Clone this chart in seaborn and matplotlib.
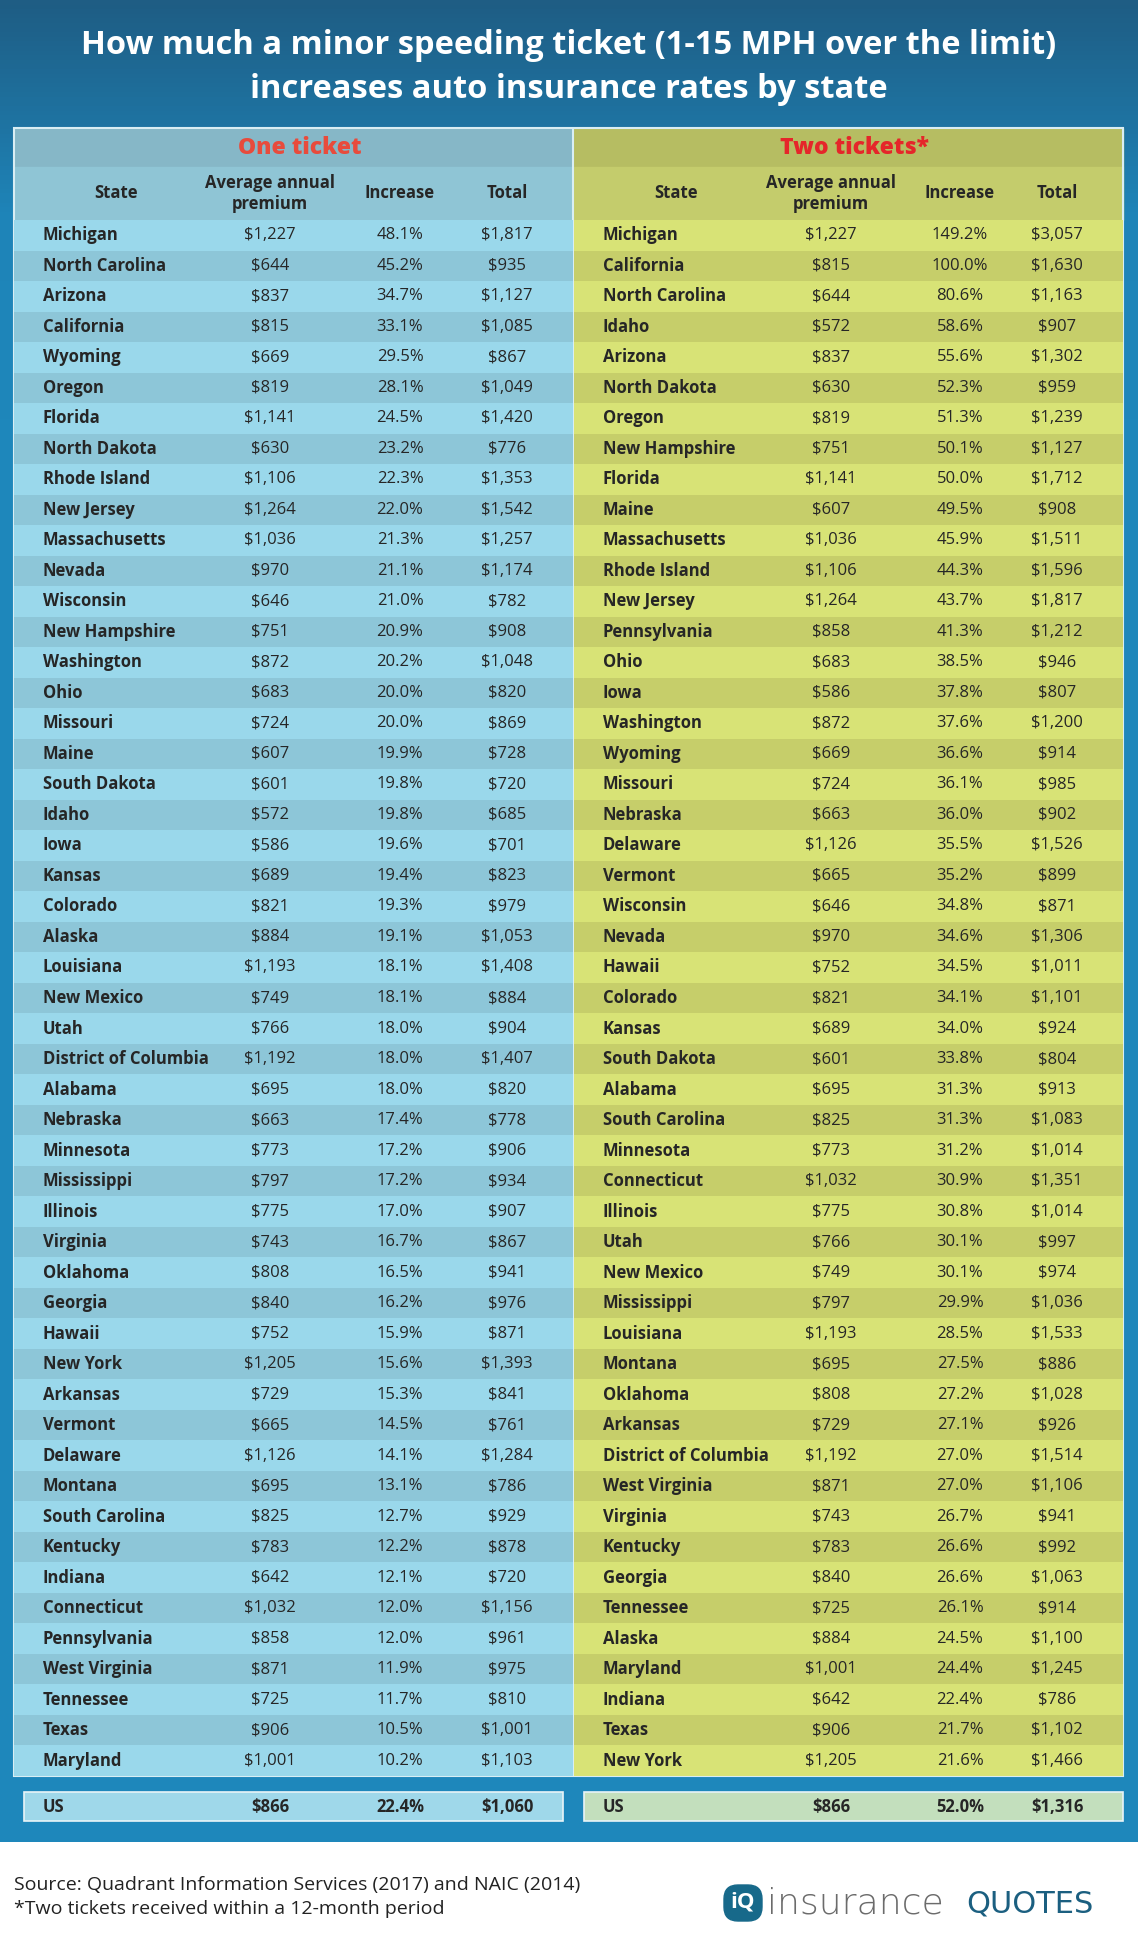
import numpy as np
import pandas as pd
import matplotlib
matplotlib.use("Agg")
import matplotlib.pyplot as plt
import seaborn as sns
from matplotlib.colors import ListedColormap, LinearSegmentedColormap
from matplotlib.patches import Rectangle, FancyBboxPatch

# ---- data -------------------------------------------------------------
one_states = ["Michigan", "North Carolina", "Arizona", "California", "Wyoming", "Oregon",
              "Florida", "North Dakota", "Rhode Island", "New Jersey", "Massachusetts",
              "Nevada", "Wisconsin", "New Hampshire", "Washington", "Ohio", "Missouri",
              "Maine", "South Dakota", "Idaho", "Iowa", "Kansas", "Colorado", "Alaska",
              "Louisiana", "New Mexico", "Utah", "District of Columbia", "Alabama",
              "Nebraska", "Minnesota", "Mississippi", "Illinois", "Virginia", "Oklahoma",
              "Georgia", "Hawaii", "New York", "Arkansas", "Vermont", "Delaware", "Montana",
              "South Carolina", "Kentucky", "Indiana", "Connecticut", "Pennsylvania",
              "West Virginia", "Tennessee", "Texas", "Maryland"]
one_premium = [1227, 644, 837, 815, 669, 819, 1141, 630, 1106, 1264, 1036, 970, 646, 751,
               872, 683, 724, 607, 601, 572, 586, 689, 821, 884, 1193, 749, 766, 1192, 695,
               663, 773, 797, 775, 743, 808, 840, 752, 1205, 729, 665, 1126, 695, 825, 783,
               642, 1032, 858, 871, 725, 906, 1001]
one_increase = [48.1, 45.2, 34.7, 33.1, 29.5, 28.1, 24.5, 23.2, 22.3, 22.0, 21.3, 21.1,
                21.0, 20.9, 20.2, 20.0, 20.0, 19.9, 19.8, 19.8, 19.6, 19.4, 19.3, 19.1,
                18.1, 18.1, 18.0, 18.0, 18.0, 17.4, 17.2, 17.2, 17.0, 16.7, 16.5, 16.2,
                15.9, 15.6, 15.3, 14.5, 14.1, 13.1, 12.7, 12.2, 12.1, 12.0, 12.0, 11.9,
                11.7, 10.5, 10.2]
one_total = [1817, 935, 1127, 1085, 867, 1049, 1420, 776, 1353, 1542, 1257, 1174, 782, 908,
             1048, 820, 869, 728, 720, 685, 701, 823, 979, 1053, 1408, 884, 904, 1407, 820,
             778, 906, 934, 907, 867, 941, 976, 871, 1393, 841, 761, 1284, 786, 929, 878,
             720, 1156, 961, 975, 810, 1001, 1103]

two_states = ["Michigan", "California", "North Carolina", "Idaho", "Arizona", "North Dakota",
              "Oregon", "New Hampshire", "Florida", "Maine", "Massachusetts", "Rhode Island",
              "New Jersey", "Pennsylvania", "Ohio", "Iowa", "Washington", "Wyoming",
              "Missouri", "Nebraska", "Delaware", "Vermont", "Wisconsin", "Nevada", "Hawaii",
              "Colorado", "Kansas", "South Dakota", "Alabama", "South Carolina", "Minnesota",
              "Connecticut", "Illinois", "Utah", "New Mexico", "Mississippi", "Louisiana",
              "Montana", "Oklahoma", "Arkansas", "District of Columbia", "West Virginia",
              "Virginia", "Kentucky", "Georgia", "Tennessee", "Alaska", "Maryland",
              "Indiana", "Texas", "New York"]
two_premium = [1227, 815, 644, 572, 837, 630, 819, 751, 1141, 607, 1036, 1106, 1264, 858,
               683, 586, 872, 669, 724, 663, 1126, 665, 646, 970, 752, 821, 689, 601, 695,
               825, 773, 1032, 775, 766, 749, 797, 1193, 695, 808, 729, 1192, 871, 743, 783,
               840, 725, 884, 1001, 642, 906, 1205]
two_increase = [149.2, 100.0, 80.6, 58.6, 55.6, 52.3, 51.3, 50.1, 50.0, 49.5, 45.9, 44.3,
                43.7, 41.3, 38.5, 37.8, 37.6, 36.6, 36.1, 36.0, 35.5, 35.2, 34.8, 34.6,
                34.5, 34.1, 34.0, 33.8, 31.3, 31.3, 31.2, 30.9, 30.8, 30.1, 30.1, 29.9,
                28.5, 27.5, 27.2, 27.1, 27.0, 27.0, 26.7, 26.6, 26.6, 26.1, 24.5, 24.4,
                22.4, 21.7, 21.6]
two_total = [3057, 1630, 1163, 907, 1302, 959, 1239, 1127, 1712, 908, 1511, 1596, 1817,
             1212, 946, 807, 1200, 914, 985, 902, 1526, 899, 871, 1306, 1011, 1101, 924,
             804, 913, 1083, 1014, 1351, 1014, 997, 974, 1036, 1533, 886, 1028, 926, 1514,
             1106, 941, 992, 1063, 914, 1100, 1245, 786, 1102, 1466]

us_one = ("US", 866, 22.4, 1060)
us_two = ("US", 866, 52.0, 1316)

columns = ["State", "Average annual\npremium", "Increase", "Total"]

sns.set_theme(style="white")
plt.rcParams["font.family"] = ["Open Sans", "DejaVu Sans"]

W, H = 1138, 1947
fig = plt.figure(figsize=(W / 100, H / 100), dpi=100)


def pix_axes(x0, y0, x1, y1):
    return fig.add_axes([x0 / W, 1 - y1 / H, (x1 - x0) / W, (y1 - y0) / H])


# background
bg = pix_axes(0, 0, W, H)
bg.set_xlim(0, W)
bg.set_ylim(H, 0)
bg.axis("off")
grad = np.clip(np.linspace(0, 1842, 400) / 420, 0, 1).reshape(-1, 1)
blue = LinearSegmentedColormap.from_list("bl", ["#1f5d84", "#1e84b8", "#1e87bb"])
bg.imshow(grad, extent=[0, W, 1842, 0], aspect="auto", cmap=blue, zorder=0)

bg.text(W / 2, 45, "How much a minor speeding ticket (1-15 MPH over the limit)",
        color="white", fontsize=23.5, fontweight="bold", ha="center", va="center")
bg.text(W / 2, 89, "increases auto insurance rates by state",
        color="white", fontsize=23.5, fontweight="bold", ha="center", va="center")

panels = [
    dict(x0=14, x1=573, title="One ticket", title_color="#e84b3c",
         band="#86b7c7", head="#8fc5d5", light="#9ad8eb", dark="#8dc6d8",
         us_fill="#9fd8ea", us_x0=24, us_x1=563,
         cols=[43, 270, 400, 507], state_head=116,
         states=one_states, prem=one_premium, inc=one_increase, tot=one_total, us=us_one),
    dict(x0=574, x1=1123, title="Two tickets*", title_color="#e5262a",
         band="#b6bd62", head="#c4cc6c", light="#d8e376", dark="#c6ce6a",
         us_fill="#c3dfbd", us_x0=584, us_x1=1123,
         cols=[603, 831, 960, 1057], state_head=676,
         states=two_states, prem=two_premium, inc=two_increase, tot=two_total, us=us_two),
]

top, band_end, head_end, rows_end = 128, 167, 220, 1776
fs = 12

for p in panels:
    x0, x1 = p["x0"], p["x1"]
    bg.add_patch(Rectangle((x0, top), x1 - x0, band_end - top, color=p["band"], zorder=1))
    bg.add_patch(Rectangle((x0, band_end), x1 - x0, head_end - band_end, color=p["head"], zorder=1))
    bg.text((x0 + x1) / 2 + 6, (top + band_end) / 2 + 1, p["title"], color=p["title_color"],
            fontsize=16.5, fontweight="heavy", ha="center", va="center", zorder=3)
    heads_x = [p["state_head"]] + p["cols"][1:]
    for hx, label in zip(heads_x, columns):
        bg.text(hx, (band_end + head_end) / 2, label, fontsize=fs, fontweight="bold",
                ha="center", va="center", linespacing=1.25, zorder=3)

    # striped body drawn as a one-column seaborn heatmap
    df = pd.DataFrame({"State": p["states"], "Premium": p["prem"],
                       "Increase": p["inc"], "Total": p["tot"]})
    stripes = (np.arange(len(df)) % 2).reshape(-1, 1)
    ax = pix_axes(x0, head_end, x1, rows_end)
    sns.heatmap(stripes, cmap=ListedColormap([p["light"], p["dark"]]), cbar=False,
                xticklabels=False, yticklabels=False, ax=ax)
    fx = [(c - x0) / (x1 - x0) for c in p["cols"]]
    for i, r in df.iterrows():
        y = i + 0.5
        ax.text(fx[0], y, r["State"], fontsize=fs, fontweight="bold", ha="left", va="center")
        ax.text(fx[1], y, f"${r['Premium']:,}", fontsize=fs, ha="center", va="center")
        ax.text(fx[2], y, f"{r['Increase']:.1f}%", fontsize=fs, ha="center", va="center")
        ax.text(fx[3], y, f"${r['Total']:,}", fontsize=fs, ha="center", va="center")

    # US summary box
    bg.add_patch(Rectangle((p["us_x0"], 1792), p["us_x1"] - p["us_x0"], 29,
                           facecolor=p["us_fill"], edgecolor="#e8f4f8", lw=1.2, zorder=1))
    name, prem, inc, tot = p["us"]
    yc = 1807
    bg.text(p["cols"][0], yc, name, fontsize=fs, fontweight="bold", ha="left", va="center")
    bg.text(p["cols"][1], yc, f"${prem:,}", fontsize=fs, fontweight="bold", ha="center", va="center")
    bg.text(p["cols"][2], yc, f"{inc:.1f}%", fontsize=fs, fontweight="bold", ha="center", va="center")
    bg.text(p["cols"][3], yc, f"${tot:,}", fontsize=fs, fontweight="bold", ha="center", va="center")

# table outline and divider
bg.add_patch(Rectangle((14, top), 1123 - 14, rows_end - top, fill=False,
                       edgecolor="#d9eef4", lw=1.5, zorder=4))
bg.plot([573.5, 573.5], [top, rows_end], color="#d9eef4", lw=1.5, zorder=4)

# footer
bg.text(14, 1885, "Source: Quadrant Information Services (2017) and NAIC (2014)",
        fontsize=14, color="#222222", ha="left", va="center")
bg.text(14, 1909, "*Two tickets received within a 12-month period",
        fontsize=14, color="#222222", ha="left", va="center")

bg.add_patch(FancyBboxPatch((724, 1885), 38, 36, boxstyle="round,pad=0,rounding_size=14",
                            color="#17698a", zorder=3))
bg.text(743, 1902, "iQ", color="white", fontsize=16, fontweight="bold",
        ha="center", va="center", zorder=4)
bg.text(767, 1913, "insurance", color="#6b6b6b", fontsize=26, fontweight="light",
        family=["DejaVu Sans"], ha="left", va="baseline")
bg.text(966, 1913, "QUOTES", color="#1b5f80", fontsize=22, fontweight="normal",
        family=["DejaVu Sans"], ha="left", va="baseline")

fig.savefig("out.png", dpi=100)
